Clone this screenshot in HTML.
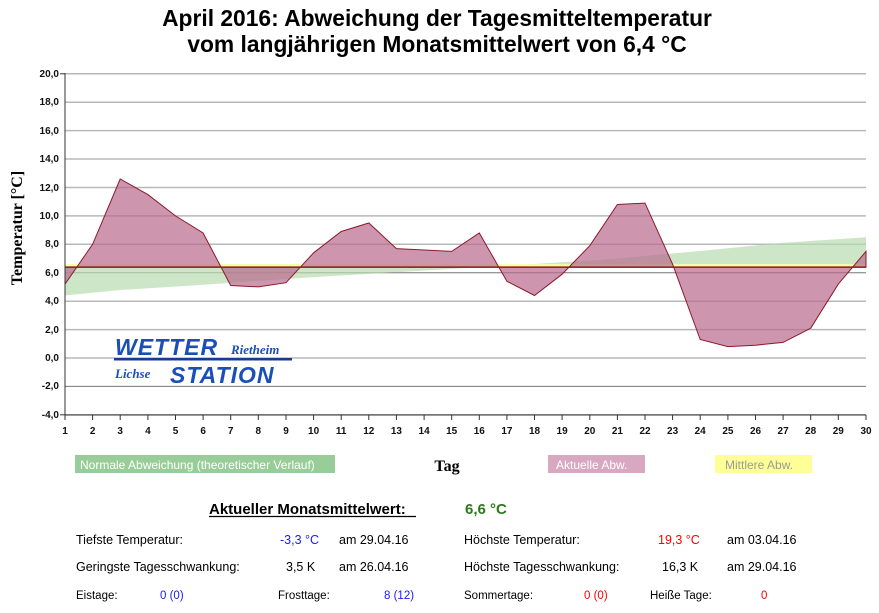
<!DOCTYPE html>
<html><head><meta charset="utf-8"><style>
body{margin:0;background:#fff;width:879px;height:608px;overflow:hidden;font-family:"Liberation Sans",sans-serif}
</style></head><body>
<svg width="879" height="608" xmlns="http://www.w3.org/2000/svg" font-family="Liberation Sans, sans-serif">
<rect width="879" height="608" fill="#fff"/>
<text x="437" y="26" font-size="22.8" font-weight="bold" text-anchor="middle">April 2016: Abweichung der Tagesmitteltemperatur</text>
<text x="437" y="52" font-size="22.8" font-weight="bold" text-anchor="middle">vom langjährigen Monatsmittelwert von 6,4 °C</text>
<g stroke="#b8b8b8" stroke-width="1.5">
<line x1="65" x2="866" y1="73.8" y2="73.8"/><line x1="65" x2="866" y1="102.2" y2="102.2"/>
<line x1="65" x2="866" y1="130.6" y2="130.6"/><line x1="65" x2="866" y1="159" y2="159"/>
<line x1="65" x2="866" y1="187.5" y2="187.5"/><line x1="65" x2="866" y1="215.9" y2="215.9"/>
<line x1="65" x2="866" y1="244.3" y2="244.3"/><line x1="65" x2="866" y1="272.7" y2="272.7" stroke="#777" stroke-width="1"/>
<line x1="65" x2="866" y1="301.2" y2="301.2"/><line x1="65" x2="866" y1="329.6" y2="329.6"/>
<line x1="65" x2="866" y1="358" y2="358"/><line x1="65" x2="866" y1="386.4" y2="386.4" stroke="#777" stroke-width="1"/>
<line x1="65" x2="866" y1="414.8" y2="414.8"/>
</g>
<polygon fill="#b8dcb0" fill-opacity="0.7" points="65,267.1 866,267.1 866,237.2 780,243 700,251 600,260 500,266 400,272 300,278 200,285 120,290 65,295.5"/>
<rect x="65" y="264.2" width="801" height="2.9" fill="#ffffa0"/>
<polygon fill="#b86a8c" fill-opacity="0.7" stroke="#8b1a2a" stroke-width="1" points="65,267.1 65,284.1 92.6,244.3 120.2,179 147.9,194.6 175.5,215.9 203.1,233 230.7,285.5 258.3,286.9 286,282.7 313.6,252.8 341.2,231.5 368.8,223 396.4,248.6 424.1,250 451.7,251.4 479.3,233 506.9,281.3 534.5,295.5 562.1,274.2 589.8,245.7 617.4,204.5 645,203.1 672.6,264.2 700.2,339.5 727.9,346.6 755.5,345.2 783.1,342.4 810.7,328.2 838.3,284.1 866,251.4 866,267.1"/>
<line x1="65" x2="866" y1="267.1" y2="267.1" stroke="#8b1a2a" stroke-width="1.5"/>
<line x1="65" x2="65" y1="73" y2="416" stroke="#333"/>
<line x1="65" x2="866" y1="415" y2="415" stroke="#333"/>
<g stroke="#333">
<line x1="65" x2="65" y1="415" y2="420"/><line x1="92.6" x2="92.6" y1="415" y2="420"/><line x1="120.2" x2="120.2" y1="415" y2="420"/><line x1="147.9" x2="147.9" y1="415" y2="420"/><line x1="175.5" x2="175.5" y1="415" y2="420"/><line x1="203.1" x2="203.1" y1="415" y2="420"/><line x1="230.7" x2="230.7" y1="415" y2="420"/><line x1="258.3" x2="258.3" y1="415" y2="420"/><line x1="286" x2="286" y1="415" y2="420"/><line x1="313.6" x2="313.6" y1="415" y2="420"/><line x1="341.2" x2="341.2" y1="415" y2="420"/><line x1="368.8" x2="368.8" y1="415" y2="420"/><line x1="396.4" x2="396.4" y1="415" y2="420"/><line x1="424.1" x2="424.1" y1="415" y2="420"/><line x1="451.7" x2="451.7" y1="415" y2="420"/><line x1="479.3" x2="479.3" y1="415" y2="420"/><line x1="506.9" x2="506.9" y1="415" y2="420"/><line x1="534.5" x2="534.5" y1="415" y2="420"/><line x1="562.1" x2="562.1" y1="415" y2="420"/><line x1="589.8" x2="589.8" y1="415" y2="420"/><line x1="617.4" x2="617.4" y1="415" y2="420"/><line x1="645" x2="645" y1="415" y2="420"/><line x1="672.6" x2="672.6" y1="415" y2="420"/><line x1="700.2" x2="700.2" y1="415" y2="420"/><line x1="727.9" x2="727.9" y1="415" y2="420"/><line x1="755.5" x2="755.5" y1="415" y2="420"/><line x1="783.1" x2="783.1" y1="415" y2="420"/><line x1="810.7" x2="810.7" y1="415" y2="420"/><line x1="838.3" x2="838.3" y1="415" y2="420"/><line x1="866" x2="866" y1="415" y2="420"/>
</g>
<g font-size="10" font-weight="bold" text-anchor="end" fill="#111">
<text x="59" y="77">20,0</text><text x="59" y="105">18,0</text><text x="59" y="134">16,0</text><text x="59" y="162">14,0</text><text x="59" y="191">12,0</text><text x="59" y="219">10,0</text><text x="59" y="247">8,0</text><text x="59" y="276">6,0</text><text x="59" y="304">4,0</text><text x="59" y="333">2,0</text><text x="59" y="361">0,0</text><text x="59" y="389">-2,0</text><text x="59" y="418">-4,0</text>
</g>
<g stroke="#333"><line x1="60" x2="65" y1="73.8" y2="73.8"/><line x1="60" x2="65" y1="414.8" y2="414.8"/></g>
<g font-size="10" font-weight="bold" text-anchor="middle" fill="#111">
<text x="65" y="434">1</text><text x="92.6" y="434">2</text><text x="120.2" y="434">3</text><text x="147.9" y="434">4</text><text x="175.5" y="434">5</text><text x="203.1" y="434">6</text><text x="230.7" y="434">7</text><text x="258.3" y="434">8</text><text x="286" y="434">9</text><text x="313.6" y="434">10</text><text x="341.2" y="434">11</text><text x="368.8" y="434">12</text><text x="396.4" y="434">13</text><text x="424.1" y="434">14</text><text x="451.7" y="434">15</text><text x="479.3" y="434">16</text><text x="506.9" y="434">17</text><text x="534.5" y="434">18</text><text x="562.1" y="434">19</text><text x="589.8" y="434">20</text><text x="617.4" y="434">21</text><text x="645" y="434">22</text><text x="672.6" y="434">23</text><text x="700.2" y="434">24</text><text x="727.9" y="434">25</text><text x="755.5" y="434">26</text><text x="783.1" y="434">27</text><text x="810.7" y="434">28</text><text x="838.3" y="434">29</text><text x="866" y="434">30</text>
</g>
<text transform="translate(22,228) rotate(-90)" font-family="Liberation Serif, serif" font-size="16" font-weight="bold" text-anchor="middle">Temperatur [°C]</text>
<g font-style="italic" font-weight="bold" fill="#1a4fb8">
<text x="115" y="355" font-size="23" font-family="Liberation Sans, sans-serif" letter-spacing="1">WETTER</text>
<text x="231" y="354" font-size="13" font-family="Liberation Serif, serif">Rietheim</text>
<rect x="114" y="358" width="178" height="2.5" fill="#1a3a90"/>
<text x="115" y="378" font-size="13" font-family="Liberation Serif, serif">Lichse</text>
<text x="170" y="383" font-size="23" letter-spacing="1">STATION</text>
</g>
<rect x="75" y="455" width="260" height="18" fill="#98cc98"/>
<text x="80" y="469" font-size="12" fill="#fff">Normale Abweichung (theoretischer Verlauf)</text>
<text x="447" y="471" font-family="Liberation Serif, serif" font-size="16" font-weight="bold" text-anchor="middle">Tag</text>
<rect x="548" y="455" width="97" height="18" fill="#d8a8c0"/>
<text x="556" y="469" font-size="12" fill="#fff">Aktuelle Abw.</text>
<rect x="715" y="455" width="97" height="18" fill="#ffff98"/>
<text x="725" y="469" font-size="12" fill="#999">Mittlere Abw.</text>
<text x="209" y="514" font-size="15" font-weight="bold">Aktueller Monatsmittelwert:</text>
<line x1="209" x2="416" y1="516.5" y2="516.5" stroke="#000" stroke-width="1.2"/>
<text x="465" y="514" font-size="15" font-weight="bold" fill="#2a7a1a">6,6 °C</text>
<g font-size="12.5">
<text x="76" y="544">Tiefste Temperatur:</text><text x="280" y="544" fill="#1a1aff">-3,3 °C</text><text x="339" y="544">am 29.04.16</text>
<text x="464" y="544">Höchste Temperatur:</text><text x="658" y="544" fill="#ff0000">19,3 °C</text><text x="727" y="544">am 03.04.16</text>
<text x="76" y="571">Geringste Tagesschwankung:</text><text x="286" y="571">3,5 K</text><text x="339" y="571">am 26.04.16</text>
<text x="464" y="571">Höchste Tagesschwankung:</text><text x="662" y="571">16,3 K</text><text x="727" y="571">am 29.04.16</text>
</g>
<g font-size="11.5">
<text x="76" y="599">Eistage:</text><text x="160" y="599" fill="#1a1aff">0 (0)</text>
<text x="278" y="599">Frosttage:</text><text x="384" y="599" fill="#1a1aff">8 (12)</text>
<text x="464" y="599">Sommertage:</text><text x="584" y="599" fill="#ff0000">0 (0)</text>
<text x="650" y="599">Heiße Tage:</text><text x="761" y="599" fill="#ff0000">0</text>
</g>
</svg>
</body></html>
